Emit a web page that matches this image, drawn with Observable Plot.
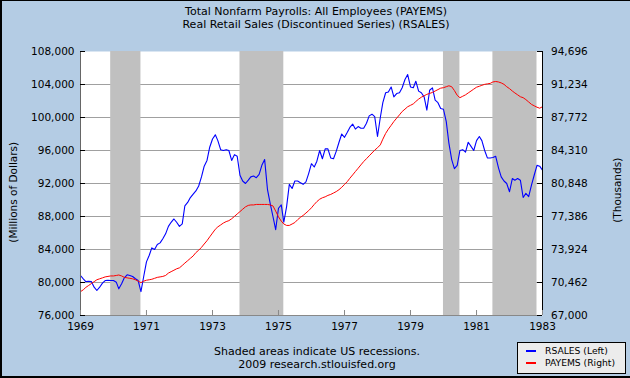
<!DOCTYPE html>
<html><head><meta charset="utf-8">
<script src="https://cdn.jsdelivr.net/npm/d3@7"></script>
<script src="https://cdn.jsdelivr.net/npm/@observablehq/plot@0.6"></script>
<style>
html,body{margin:0;padding:0;}
body{width:630px;height:378px;overflow:hidden;}
#wrap{position:relative;width:630px;height:378px;background:#b4cce4;font-family:"DejaVu Sans",Verdana,sans-serif;color:#000;overflow:hidden;}
#chart{position:absolute;left:0;top:0;}
.t{position:absolute;white-space:nowrap;line-height:1;}
.rot{transform:rotate(-90deg);text-align:center;}
#border{position:absolute;left:0;top:0;width:630px;height:378px;box-sizing:border-box;border-left:2px solid #000;border-top:1px solid #000;border-bottom:2px solid #000;pointer-events:none;}
#legend{position:absolute;left:517px;top:342px;width:109px;height:32px;box-sizing:border-box;background:#ececec;border:1px solid #000;}
.sw{position:absolute;width:10px;height:2px;}
</style></head><body>
<div id="wrap">
  <div id="chart"></div>
  <div class="t" style="left:0;width:632px;text-align:center;top:5.7px;font-size:11px">Total Nonfarm Payrolls: All Employees (PAYEMS)</div>
  <div class="t" style="left:0;width:632px;text-align:center;top:19px;font-size:11px">Real Retail Sales (Discontinued Series) (RSALES)</div>
  <div class="t rot" style="left:-87px;width:200px;top:187px;font-size:10.5px">(Millions of Dollars)</div>
  <div class="t rot" style="left:517px;width:200px;top:184.7px;font-size:10.5px">(Thousands)</div>
  <div class="t" style="left:2px;width:630px;text-align:center;top:345.7px;font-size:11px">Shaded areas indicate US recessions.</div>
  <div class="t" style="left:2px;width:630px;text-align:center;top:359px;font-size:11px">2009 research.stlouisfed.org</div>
  <div id="legend"></div>
  <div class="sw" style="left:526px;top:349.5px;background:#0000ff"></div>
  <div class="sw" style="left:526px;top:361.7px;background:#ff0000"></div>
  <div class="t" style="left:545px;top:345.5px;font-size:9.2px">RSALES (Left)</div>
  <div class="t" style="left:545px;top:357.9px;font-size:9.2px">PAYEMS (Right)</div>
  <div id="border"></div>
</div>
<script>
// Real Retail Sales (RSALES), millions of dollars, monthly Jan 1969 - Jan 1983
const rsales1969 = [80850, 80450, 80120, 80160, 80120, 79430, 79030, 79430, 79920, 80240, 80270, 80240];
const rsales1970 = [80240, 80040, 79230, 79840, 80570, 80930, 80850, 80730, 80450, 80240, 78900, 80700];
const rsales1971 = [82500, 83300, 84200, 84000, 84600, 84800, 85300, 85900, 86800, 87300, 87700, 87300];
const rsales1972 = [86800, 87100, 89300, 89700, 90300, 90700, 91100, 91700, 92800, 94100, 94800, 96400];
const rsales1973 = [97400, 97900, 97200, 96100, 96000, 96100, 96000, 94800, 95500, 95300, 93000, 92300];
const rsales1974 = [92000, 92400, 92800, 92900, 92700, 93100, 94200, 94900, 91300, 89600, 88000, 86400];
const rsales1975 = [89000, 89400, 87300, 89200, 91900, 91400, 92300, 92300, 92100, 91900, 92200, 93200];
const rsales1976 = [94400, 94000, 94700, 96000, 95000, 96200, 96200, 95100, 95000, 95900, 97000, 98000];
const rsales1977 = [97600, 98200, 98800, 99200, 98600, 98900, 98700, 98700, 99300, 100200, 100400, 100100];
const rsales1978 = [97700, 100000, 101800, 103000, 103100, 103700, 102500, 102900, 103000, 103600, 104600, 105200];
const rsales1979 = [103700, 103600, 104400, 103200, 103000, 102500, 100900, 103300, 103600, 102100, 101800, 101100];
const rsales1980 = [101000, 99500, 96900, 94900, 93800, 94200, 96000, 96100, 95800, 97000, 96500, 96000];
const rsales1981 = [97200, 97700, 97200, 96000, 95100, 95100, 95150, 95300, 93900, 92800, 92300, 92000];
const rsales1982 = [91000, 92600, 92400, 92600, 92400, 90300, 90800, 90400, 91800, 93000, 94200, 94100];
const rsales1983 = [93600];

// Total Nonfarm Payrolls (PAYEMS), thousands, monthly Jan 1969 - Jan 1983
const payems1969 = [69500, 69700, 69950, 70150, 70350, 70550, 70750, 70850, 70950, 71050, 71100, 71150];
const payems1970 = [71150, 71200, 71250, 71150, 71000, 70950, 70900, 70850, 70750, 70600, 70450, 70600];
const payems1971 = [70700, 70750, 70800, 70900, 71000, 71050, 71100, 71200, 71450, 71600, 71750, 71900];
const payems1972 = [72000, 72250, 72500, 72750, 73000, 73250, 73600, 73850, 74150, 74500, 74850, 75250];
const payems1973 = [75650, 76050, 76300, 76500, 76700, 76850, 76950, 77150, 77400, 77650, 77900, 78150];
const payems1974 = [78400, 78550, 78600, 78600, 78650, 78650, 78650, 78650, 78650, 78600, 78500, 77950];
const payems1975 = [77350, 76900, 76600, 76450, 76450, 76600, 76750, 77050, 77300, 77500, 77750, 78000];
const payems1976 = [78300, 78650, 78950, 79200, 79350, 79450, 79600, 79700, 79850, 80000, 80200, 80450];
const payems1977 = [80750, 81050, 81400, 81750, 82100, 82450, 82800, 83150, 83450, 83750, 84050, 84350];
const payems1978 = [84600, 84900, 85500, 86100, 86550, 86950, 87350, 87700, 88050, 88400, 88650, 88900];
const payems1979 = [89050, 89200, 89450, 89700, 89900, 90050, 90200, 90300, 90400, 90550, 90700, 90850];
const payems1980 = [90900, 91000, 91100, 91000, 90600, 90100, 89850, 90000, 90150, 90350, 90550, 90750];
const payems1981 = [90950, 91050, 91150, 91250, 91300, 91350, 91500, 91550, 91500, 91400, 91250, 91000];
const payems1982 = [90800, 90550, 90350, 90150, 89950, 89850, 89650, 89400, 89150, 89000, 88850, 88750];
const payems1983 = [88900];

// US recessions (shaded)
const recessionStarts = ["1969-12-01", "1973-11-01", "1980-01-01", "1981-07-01"];
const recessionEnds   = ["1970-11-01", "1975-03-01", "1980-07-01", "1982-11-01"];

// Axes
const xTickYears = [1969, 1971, 1973, 1975, 1977, 1979, 1981, 1983];
const leftTicks  = [76000, 80000, 84000, 88000, 92000, 96000, 100000, 104000, 108000];
const rightTicks = [67000, 70462, 73924, 77386, 80848, 84310, 87772, 91234, 94696];

const rsales = [].concat(rsales1969, rsales1970, rsales1971, rsales1972, rsales1973, rsales1974, rsales1975,
  rsales1976, rsales1977, rsales1978, rsales1979, rsales1980, rsales1981, rsales1982, rsales1983);
const payems = [].concat(payems1969, payems1970, payems1971, payems1972, payems1973, payems1974, payems1975,
  payems1976, payems1977, payems1978, payems1979, payems1980, payems1981, payems1982, payems1983);

const monthDate = i => new Date(Date.UTC(1969, i, 1));
const rsalesData = rsales.map((v, i) => ({date: monthDate(i), value: v}));
const payemsData = payems.map((v, i) => ({date: monthDate(i), value: v}));
const recessions = recessionStarts.map((s, i) => ({start: new Date(s), end: new Date(recessionEnds[i])}));
const yearDates = xTickYears.map(y => new Date(Date.UTC(y, 0, 1)));

const leftMin = leftTicks[0], leftMax = leftTicks[leftTicks.length - 1];
const rightMin = rightTicks[0], rightMax = rightTicks[rightTicks.length - 1];
const toLeft = v => leftMin + (v - rightMin) * (leftMax - leftMin) / (rightMax - rightMin);
const toRight = v => rightMin + (v - leftMin) * (rightMax - rightMin) / (leftMax - leftMin);
const fmt = d3.format(",");

const W = 630, H = 378, mL = 80, mR = 88, mT = 51, mB = 63;
const innerW = W - mL - mR, innerH = H - mT - mB;
const tick = 5;

const chart = Plot.plot({
  width: W, height: H,
  marginLeft: mL, marginRight: mR, marginTop: mT, marginBottom: mB,
  style: {background: "transparent", fontFamily: "DejaVu Sans, Verdana, sans-serif", fontSize: "10.5px", color: "#000"},
  x: {type: "utc", domain: [yearDates[0], yearDates[yearDates.length - 1]]},
  y: {domain: [leftMin, leftMax]},
  marks: [
    Plot.frame({fill: "white", stroke: null}),
    Plot.ruleY(leftTicks.slice(1, -1), {stroke: "#a0a0a0"}),
    Plot.rect(recessions, {x1: "start", x2: "end", y1: leftMin, y2: leftMax, fill: "#c0c0c0"}),
    Plot.line(rsalesData, {x: "date", y: "value", stroke: "#0000ff", strokeWidth: 1.1}),
    Plot.line(payemsData, {x: "date", y: d => toLeft(d.value), stroke: "#ff0000", strokeWidth: 1}),
    Plot.ruleX([yearDates[0]], {stroke: "#666"}),
    Plot.ruleX([yearDates[yearDates.length - 1]], {stroke: "#000"}),
    Plot.ruleY([leftMin], {stroke: "#888"}),
    Plot.tickY(leftTicks, {y: d => d, insetRight: innerW - tick, stroke: "#000"}),
    Plot.tickY(leftTicks, {y: d => d, insetLeft: innerW - tick, stroke: "#000"}),
    Plot.tickX(yearDates, {x: d => d, insetTop: innerH - tick, stroke: "#888"}),
    Plot.axisY(leftTicks, {anchor: "left", tickSize: 0, tickPadding: 6, tickFormat: fmt, label: null}),
    Plot.axisY(rightTicks.map(toLeft), {anchor: "right", tickSize: 0, tickPadding: 8.5,
      tickFormat: d => fmt(Math.round(toRight(d))), label: null}),
    Plot.axisX(yearDates, {tickSize: 0, tickPadding: 7, tickFormat: d3.utcFormat("%Y"), label: null})
  ]
});
document.getElementById("chart").appendChild(chart);
</script>
</body></html>
